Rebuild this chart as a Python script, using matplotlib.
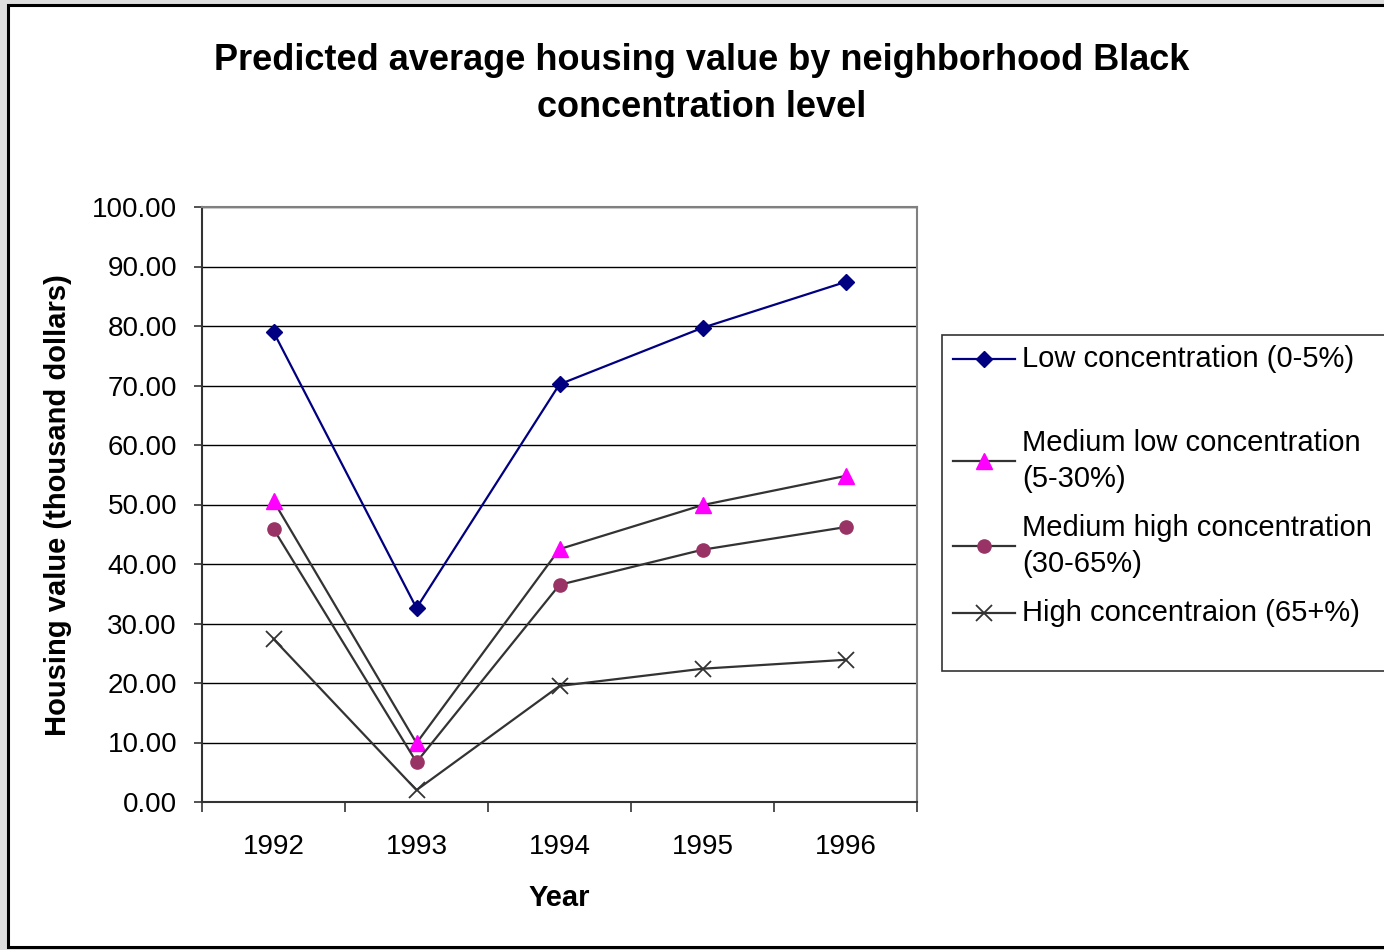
import numpy as np
import matplotlib.pyplot as plt
from matplotlib.patches import Rectangle
from matplotlib.lines import Line2D

plt.rcParams['font.family'] = ['Liberation Sans', 'DejaVu Sans']

years = ['1992', '1993', '1994', '1995', '1996']
low = [79.0, 32.6, 70.2, 79.7, 87.4]
med_low = [50.6, 9.9, 42.5, 49.9, 54.8]
med_high = [45.9, 6.7, 36.5, 42.4, 46.2]
high = [27.4, 2.0, 19.5, 22.4, 23.9]

labels = ['Low concentration (0-5%)',
          'Medium low concentration\n(5-30%)',
          'Medium high concentration\n(30-65%)',
          'High concentraion (65+%)']

W, H = 1384, 950
fig = plt.figure(figsize=(W / 100, H / 100), dpi=100, facecolor='#dedede')

# white chart area with a black frame
fig.patches.append(Rectangle((8 / W, 1 - 947 / H), 1.0, (947 - 5) / H,
                             transform=fig.transFigure, facecolor='white',
                             edgecolor='black', linewidth=2.2, zorder=-10))

ax = fig.add_axes([202 / W, 1 - 802 / H, (917 - 202) / W, (802 - 207) / H])
x = np.arange(len(years))

styles = [
    dict(color='#000080', marker='D', markersize=8.5, mfc='#000080', mec='#000080'),
    dict(color='#333333', marker='^', markersize=11, mfc='#ff00ff', mec='#ff00ff'),
    dict(color='#333333', marker='o', markersize=9.5, mfc='#993366', mec='#993366'),
    dict(color='#333333', marker='x', markersize=11, mfc='#333333', mec='#333333', mew=1.3),
]
series = [low, med_low, med_high, high]
for vals, st in zip(series, styles):
    ax.plot(x, vals, linewidth=1.6, clip_on=False, zorder=3, **st)

ax.set_xlim(-0.5, len(years) - 0.5)
ax.set_ylim(0, 100)
ax.set_yticks(np.arange(0, 101, 10))
ax.set_yticklabels(['%.2f' % v for v in np.arange(0, 101, 10)], fontsize=20)
ax.set_xticks(np.arange(-0.5, len(years), 1.0))
ax.set_xticklabels([])
ax.set_xticks(x, minor=True)
ax.set_xticklabels(years, minor=True, fontsize=20)
ax.tick_params(axis='x', which='minor', length=0, pad=23)
ax.tick_params(axis='x', which='major', direction='out', length=7, width=1.2, color='#333333')
ax.tick_params(axis='y', direction='out', length=6, width=1.2, color='#333333', pad=12)
ax.grid(axis='y', color='black', linewidth=1)
ax.set_axisbelow(True)

for side in ['top', 'right']:
    ax.spines[side].set_color('#808080')
    ax.spines[side].set_linewidth(1.5)
for side in ['left', 'bottom']:
    ax.spines[side].set_color('#333333')
    ax.spines[side].set_linewidth(1.5)

ax.set_xlabel('Year', fontsize=21, fontweight='bold', labelpad=17)
fig.text(58 / W, 1 - 505 / H, 'Housing value (thousand dollars)', rotation=90,
         ha='center', va='center', fontsize=21, fontweight='bold')

fig.text(702 / W, 1 - 84 / H,
         'Predicted average housing value by neighborhood Black\nconcentration level',
         ha='center', va='center', fontsize=26, fontweight='bold', linespacing=1.45)

# legend box drawn in figure pixels
fig.patches.append(Rectangle((942 / W, 1 - 671 / H), 1.0, (671 - 335) / H,
                             transform=fig.transFigure, facecolor='white',
                             edgecolor='#333333', linewidth=1.2, zorder=1))
rows = [359, 461, 546, 613]
for yy, lab, st in zip(rows, labels, styles):
    yf = 1 - yy / H
    fig.lines.append(Line2D([953 / W, 1015 / W], [yf, yf], transform=fig.transFigure,
                            color=st['color'], linewidth=1.6, zorder=2))
    mst = {k: v for k, v in st.items() if k != 'color'}
    fig.lines.append(Line2D([984 / W], [yf], transform=fig.transFigure,
                            linestyle='none', zorder=3, **mst))
    fig.text(1022 / W, yf, lab, ha='left', va='center', fontsize=21,
             linespacing=1.35, zorder=4)

fig.savefig('out.png', dpi=100, facecolor=fig.get_facecolor())
